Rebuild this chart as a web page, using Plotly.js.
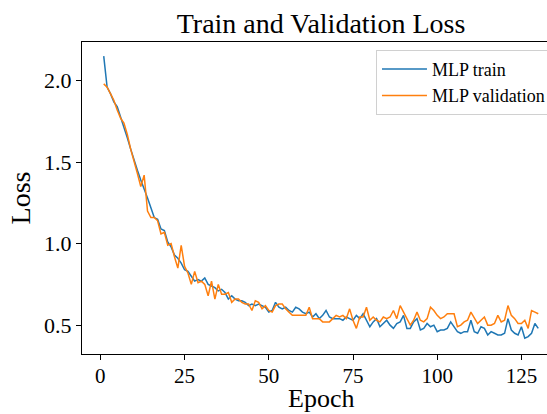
<!DOCTYPE html>
<html>
<head>
<meta charset="utf-8">
<script src="https://cdn.plot.ly/plotly-3.0.1.min.js"></script>
<style>
html, body { margin: 0; padding: 0; overflow: hidden; background: #fff; }
#chart { width: 580px; height: 414px; }
</style>
</head>
<body>
<div id="chart"></div>
<script>
const epochs = Array.from({length: 130}, (_, i) => i + 1);

const trainLoss = [
  2.15, 1.96, 1.92, 1.87, 1.84, 1.78, 1.72, 1.65, 1.58, 1.51,
  1.45, 1.39, 1.34, 1.28, 1.22, 1.16, 1.15, 1.09, 1.08, 1.01,
  0.98, 0.93, 0.91, 0.88, 0.84, 0.83, 0.80, 0.77, 0.78, 0.77,
  0.79, 0.75, 0.74, 0.73, 0.71, 0.72, 0.70, 0.66, 0.68, 0.66,
  0.65, 0.65, 0.64, 0.62, 0.63, 0.62, 0.63, 0.62, 0.61, 0.58,
  0.59, 0.64, 0.61, 0.60, 0.61, 0.59, 0.58, 0.61, 0.60, 0.58,
  0.57, 0.58, 0.55, 0.57, 0.54, 0.56, 0.59, 0.55, 0.54, 0.54,
  0.54, 0.53, 0.55, 0.54, 0.53, 0.56, 0.54, 0.57, 0.53, 0.49,
  0.52, 0.54, 0.49, 0.51, 0.53, 0.50, 0.48, 0.51, 0.52, 0.56,
  0.48, 0.48, 0.52, 0.54, 0.47, 0.48, 0.51, 0.49, 0.50, 0.46,
  0.47, 0.47, 0.48, 0.52, 0.49, 0.46, 0.45, 0.46, 0.46, 0.53,
  0.46, 0.45, 0.49, 0.48, 0.44, 0.46, 0.45, 0.44, 0.44, 0.45,
  0.54, 0.47, 0.45, 0.44, 0.49, 0.42, 0.43, 0.45, 0.51, 0.48
];

const valLoss = [
  1.98, 1.96, 1.92, 1.88, 1.82, 1.77, 1.74, 1.67, 1.58, 1.51,
  1.43, 1.35, 1.42, 1.20, 1.16, 1.16, 1.14, 1.06, 1.07, 0.99,
  1.00, 0.92, 0.85, 0.99, 0.86, 0.82, 0.75, 0.83, 0.76, 0.77,
  0.75, 0.68, 0.77, 0.66, 0.75, 0.69, 0.69, 0.70, 0.64, 0.66,
  0.66, 0.64, 0.63, 0.63, 0.59, 0.65, 0.64, 0.60, 0.62, 0.59,
  0.58, 0.62, 0.63, 0.63, 0.60, 0.58, 0.56, 0.56, 0.56, 0.56,
  0.56, 0.61, 0.54, 0.54, 0.54, 0.52, 0.52, 0.52, 0.54, 0.56,
  0.55, 0.56, 0.54, 0.60, 0.53, 0.48, 0.55, 0.55, 0.61, 0.53,
  0.55, 0.53, 0.52, 0.55, 0.54, 0.55, 0.59, 0.54, 0.62, 0.58,
  0.53, 0.50, 0.53, 0.58, 0.53, 0.52, 0.54, 0.61, 0.59, 0.56,
  0.54, 0.55, 0.57, 0.57, 0.57, 0.49, 0.50, 0.52, 0.53, 0.58,
  0.54, 0.51, 0.53, 0.55, 0.50, 0.50, 0.51, 0.56, 0.52, 0.53,
  0.62, 0.56, 0.54, 0.51, 0.51, 0.53, 0.48, 0.59, 0.58, 0.57
];

const seriesNames = ['MLP train', 'MLP validation'];
const xTicks = [0, 25, 50, 75, 100, 125];
const yTicks = [0.5, 1.0, 1.5, 2.0];
const yTickText = ['0.5', '1.0', '1.5', '2.0'];
const xAxisTitle = 'Epoch';

const serif = 'Liberation Serif, Times New Roman, serif';

const traces = [
  { x: epochs, y: trainLoss, name: seriesNames[0], type: 'scatter', mode: 'lines',
    line: { color: '#1f77b4', width: 1.5 } },
  { x: epochs, y: valLoss, name: seriesNames[1], type: 'scatter', mode: 'lines',
    line: { color: '#ff7f0e', width: 1.5 } }
];

const layout = {
  width: 580, height: 414,
  margin: { l: 82, r: 20, t: 42, b: 60 },
  paper_bgcolor: '#fff', plot_bgcolor: '#fff',
  font: { family: serif, color: '#000' },
  title: { text: 'Train and Validation Loss', font: { family: serif, size: 28, color: '#000' },
           x: 0.5, xref: 'paper', xanchor: 'center', y: 1, yref: 'paper', yanchor: 'bottom', pad: { b: 9 } },
  xaxis: {
    range: [-5.45, 136.45], tickvals: xTicks, ticktext: xTicks.map(String),
    showgrid: false, zeroline: false, showline: true, mirror: true, linecolor: '#000', linewidth: 1,
    ticks: 'outside', ticklen: 5, tickcolor: '#000', tickwidth: 1, ticklabelstandoff: -2,
    tickfont: { family: serif, size: 21, color: '#000' }
  },
  yaxis: {
    range: [0.323, 2.237], tickvals: yTicks, ticktext: yTickText,
    showgrid: false, zeroline: false, showline: true, mirror: true, linecolor: '#000', linewidth: 1,
    ticks: 'outside', ticklen: 5, tickcolor: '#000', tickwidth: 1,
    tickfont: { family: serif, size: 22, color: '#000' },
    title: { text: 'Loss', font: { family: serif, size: 28, color: '#000' }, standoff: 5 }
  },
  annotations: [{
    text: xAxisTitle, xref: 'paper', yref: 'paper', x: 0.5, y: -0.1923,
    xanchor: 'center', yanchor: 'bottom', yshift: 0, showarrow: false, borderpad: 0,
    font: { family: serif, size: 26, color: '#000' }
  }],
  legend: {
    x: 0.615, y: 0.975, xanchor: 'left', yanchor: 'top', xref: 'paper', yref: 'paper',
    bgcolor: 'rgba(255,255,255,0.8)', bordercolor: '#d0d0d0', borderwidth: 1,
    font: { family: serif, size: 18, color: '#000' }, tracegroupgap: 0, itemwidth: 45
  },
  showlegend: true
};

Plotly.newPlot('chart', traces, layout, { displayModeBar: false, staticPlot: true });
</script>
</body>
</html>
